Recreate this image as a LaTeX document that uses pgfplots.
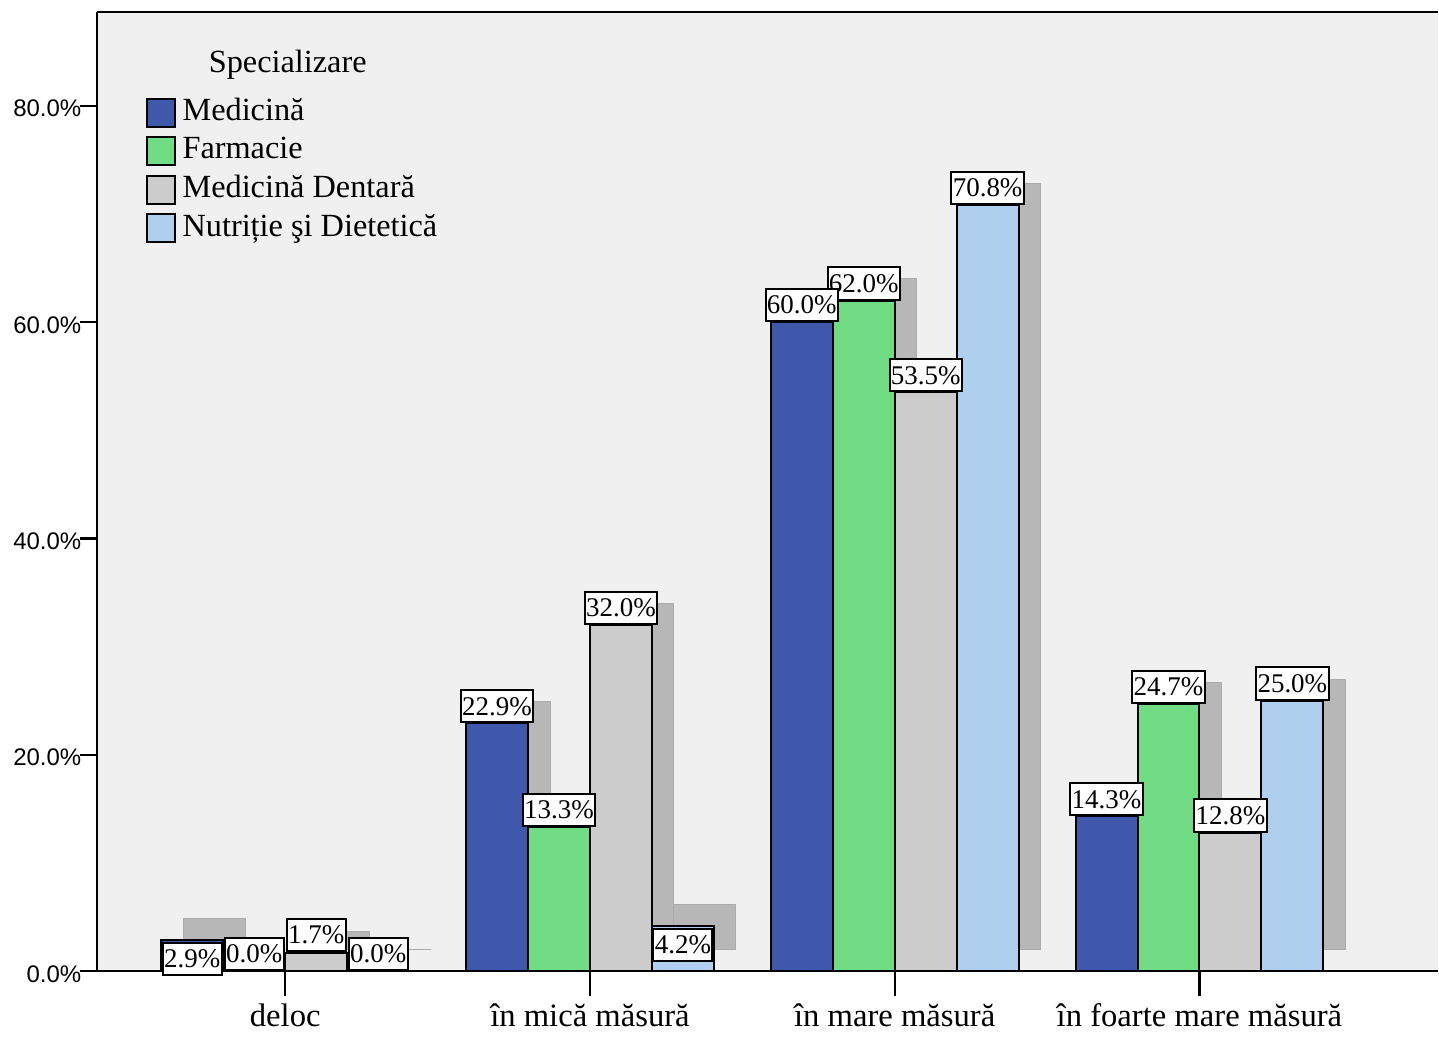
\documentclass[border=0pt]{standalone}
\usepackage{pgfplots}
\usepackage{pgfplotstable}
\pgfplotsset{compat=1.18}
\usepackage{fontspec}
\setmainfont{Liberation Serif}
\newfontfamily\arialf{Liberation Sans}
\definecolor{med}{HTML}{3E58AC}
\definecolor{farm}{HTML}{70DC84}
\definecolor{dent}{HTML}{CCCCCC}
\definecolor{nutr}{HTML}{AED0EE}
\definecolor{shad}{HTML}{B7B7B7}
\definecolor{shadedge}{HTML}{ABABAB}
\definecolor{bg}{HTML}{F0F0F0}
\pgfplotstableread{
x med farm dent nutr
0 2.9 0.0 1.7 0.0
1 22.9 13.3 32.0 4.2
2 60.0 62.0 53.5 70.8
3 14.3 24.7 12.8 25.0
}\data
\pgfplotsset{
  shadowbar/.style={ybar, bar width=0.2033, bar shift=#1, fill=shad, draw=shadedge, line width=0.3pt, yshift=6.495pt, forget plot},
  frontbar/.style={ybar, bar width=0.2033, bar shift=#1, draw=black, line width=0.6pt},
  lblplot/.style={draw=none, mark=none, forget plot,
    nodes near coords, point meta=explicit symbolic,
    nodes near coords style={anchor=south, draw=black, line width=0.6pt, fill=white, text=black, inner xsep=0.4pt, inner ysep=2.1pt, font=\fontsize{8.1}{9}\selectfont}},
}
\begin{document}
\begin{tikzpicture}
\begin{axis}[
  scale only axis, width=402.6pt, height=288pt,
  xmin=-0.618, xmax=3.782, ymin=0, ymax=88.68,
  axis background/.style={fill=bg},
  axis x line*=box, axis y line*=left,
  axis line style={line width=0.75pt, black},
  every outer x axis line/.append style={line width=0.75pt},
  every outer y axis line/.append style={line width=0.75pt},
  xtick={0,1,2,3},
  xticklabels={deloc, în mică măsură, în mare măsură, în foarte mare măsură},
  ytick={0,20,40,60,80},
  yticklabels={0.0\%,20.0\%,40.0\%,60.0\%,80.0\%},
  tick align=outside, xtick pos=bottom, ytick pos=left,
  major tick length=5.1pt,
  xtick style={line width=0.7pt, black, /pgfplots/major tick length=7.5pt},
  ytick style={line width=0.7pt, black},
  xticklabel style={font=\fontsize{9.8}{11}\selectfont, yshift=-1.2pt},
  yticklabel style={font=\arialf\fontsize{7.2}{9}\selectfont, inner xsep=0pt, xshift=0.6pt, yshift=-0.8pt},
  clip=false,
  legend style={at={(rel axis cs:0.0358,0.9115)}, anchor=north west, draw=none, fill=none,
    inner sep=0pt, row sep=2.6pt, column sep=2.1pt, font=\fontsize{9.7}{11}\selectfont,
    nodes={inner sep=0pt, text height=6.6pt, text depth=1.9pt}},
  legend cell align=left,
  legend image code/.code={\draw[#1, line width=0.6pt] (0pt,-4.2pt) rectangle (8.4pt,4.2pt);},
]
% shadows
\addplot[shadowbar=-0.2328] table[x=x,y=med]{\data};
\addplot[shadowbar=-0.0295] table[x=x,y=farm]{\data};
\addplot[shadowbar=0.1738] table[x=x,y=dent]{\data};
\addplot[shadowbar=0.3770] table[x=x,y=nutr]{\data};
% bars
\addplot[frontbar=-0.3049, fill=med] table[x=x,y=med]{\data};
\addplot[frontbar=-0.1016, fill=farm] table[x=x,y=farm]{\data};
\addplot[frontbar=0.1016, fill=dent] table[x=x,y=dent]{\data};
\addplot[frontbar=0.3049, fill=nutr] table[x=x,y=nutr]{\data};
\legend{Medicină, Farmacie, Medicină Dentară, Nutriție şi Dietetică}
% labels
\addplot[lblplot] coordinates {(0.3049,0)[0.0\%] (1.3049,0.83)[4.2\%] (2.3049,70.8)[70.8\%] (3.3049,25.0)[25.0\%]};
\addplot[lblplot] coordinates {(0.1016,1.76)[1.7\%] (1.1016,32.0)[32.0\%] (2.1016,53.5)[53.5\%] (3.1016,12.8)[12.8\%]};
\addplot[lblplot] coordinates {(-0.1016,0)[0.0\%] (0.8984,13.3)[13.3\%] (1.8984,62.0)[62.0\%] (2.8984,24.7)[24.7\%]};
\addplot[lblplot] coordinates {(-0.3049,-0.45)[2.9\%] (0.6951,22.9)[22.9\%] (1.6951,60.0)[60.0\%] (2.6951,14.3)[14.3\%]};
\node[font=\fontsize{9.7}{11}\selectfont] at (rel axis cs:0.1423,0.945) {Specializare};
\end{axis}
\path ([xshift=-29.1pt,yshift=-17.7pt]current axis.south west) rectangle ([yshift=3.6pt]current axis.north east);
\end{tikzpicture}
\end{document}
